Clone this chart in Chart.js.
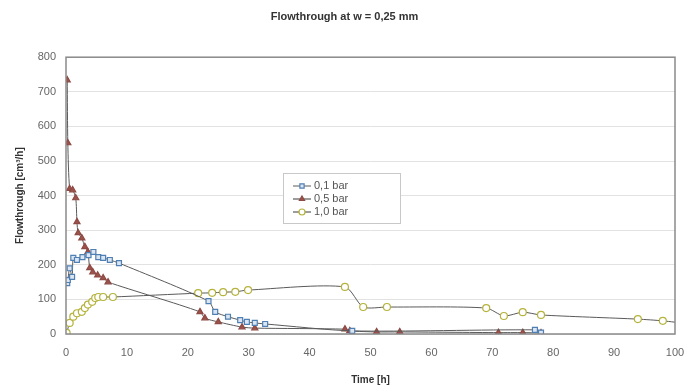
<!DOCTYPE html>
<html><head><meta charset="utf-8">
<script src="https://cdn.jsdelivr.net/npm/chart.js@4/dist/chart.umd.min.js"></script>
<style>html,body{margin:0;padding:0;background:#fff}#wrap{width:685px;height:390px;position:relative}</style>
</head><body><div id="wrap"><canvas id="c" width="685" height="390"></canvas></div>
<script>
const chartTitle = 'Flowthrough at w = 0,25 mm';
const xTitle = 'Time [h]';
const yTitle = 'Flowthrough [cm³/h]';
const seriesNames = ['0,1 bar', '0,5 bar', '1,0 bar'];

const t01 = [0.2, 0.3, 0.6, 1.0, 1.2, 1.8, 2.7, 3.7, 4.5, 5.3, 6.1, 7.2, 8.7, 23.4, 24.5, 26.6, 28.6, 29.7, 31, 32.7, 47, 77, 78];
const v01 = [147, 156, 190, 165, 220, 214, 222, 228, 237, 222, 220, 214, 205, 95, 64, 50, 40, 35, 32, 29, 9, 12, 4];

const t05 = [0.2, 0.3, 0.6, 1.1, 1.6, 1.8, 2.0, 2.6, 3.1, 3.6, 3.9, 4.4, 5.2, 6.1, 6.9, 22, 22.8, 25, 28.9, 31, 45.8, 46.6, 51, 54.8, 71, 75, 78];
const v05 = [734, 552, 420, 416, 393, 324, 292, 277, 252, 237, 191, 179, 170, 162, 150, 64, 46, 35, 20, 17, 14, 9, 6, 6, 4, 4, 3];

const t10 = [0.1, 0.6, 1.2, 1.8, 2.6, 3.1, 3.6, 4.3, 4.8, 5.3, 6.1, 7.7, 21.7, 24, 25.8, 27.8, 29.9, 45.8, 48.8, 52.7, 69, 71.9, 75, 78, 93.9, 98, 102];
const v10 = [3, 32, 50, 60, 64, 75, 85, 93, 104, 107, 107, 107, 118, 119, 121, 122, 127, 136, 78, 78, 75, 52, 63, 55, 43, 38, 30];

const xTicks = [0, 10, 20, 30, 40, 50, 60, 70, 80, 90, 100];
const yTicks = [0, 100, 200, 300, 400, 500, 600, 700, 800];

const pts = (t, v) => t.map((x, i) => ({x, y: v[i]}));

const styles = [
  {pointStyle: 'rect', borderColor: '#4f7fb3', backgroundColor: '#dbe6f2', radius: 3.5},
  {pointStyle: 'triangle', borderColor: '#8e4a44', backgroundColor: '#9c514a', radius: 3.5},
  {pointStyle: 'circle', borderColor: '#b5b33c', backgroundColor: '#ffffff', radius: 3.5}
];

const datasets = [[t01, v01], [t05, v05], [t10, v10]].map((d, i) => ({
  label: seriesNames[i],
  data: pts(d[0], d[1]),
  borderColor: '#5a5a5a',
  borderWidth: 1,
  tension: 0.25,
  pointStyle: styles[i].pointStyle,
  pointRadius: styles[i].radius,
  pointBorderColor: styles[i].borderColor,
  pointBackgroundColor: styles[i].backgroundColor,
  pointBorderWidth: 1.2,
  fill: false
}));

const framePlugin = {
  id: 'frame',
  afterDatasetsDraw(chart) {
    const a = chart.chartArea, ctx = chart.ctx;
    ctx.save();
    ctx.strokeStyle = '#8a8a8a';
    ctx.lineWidth = 1.5;
    ctx.strokeRect(a.left, a.top, a.right - a.left, a.bottom - a.top);
    // legend box
    const lx = 283, ly = 173, lw = 117, lh = 50;
    ctx.fillStyle = '#fff';
    ctx.fillRect(lx, ly, lw, lh);
    ctx.strokeStyle = '#c8c8c8';
    ctx.lineWidth = 1;
    ctx.strokeRect(lx + 0.5, ly + 0.5, lw, lh);
    ctx.font = '11px "Liberation Sans", Arial, sans-serif';
    ctx.textBaseline = 'middle';
    seriesNames.forEach((n, i) => {
      const yy = ly + 13 + i * 13;
      ctx.strokeStyle = '#5a5a5a';
      ctx.beginPath(); ctx.moveTo(293, yy); ctx.lineTo(311, yy); ctx.stroke();
      ctx.fillStyle = styles[i].backgroundColor; ctx.strokeStyle = styles[i].borderColor; ctx.lineWidth = 1.2;
      Chart.helpers.drawPoint(ctx, {pointStyle: styles[i].pointStyle, radius: 3, borderWidth: 1.2}, 302, yy);
      ctx.fillStyle = '#555';
      ctx.fillText(n, 314, yy);
    });
    ctx.restore();
  }
};

new Chart(document.getElementById('c'), {
  type: 'line',
  data: {datasets},
  options: {
    responsive: false,
    animation: false,
    layout: {padding: {left: 14, right: 10, top: 0, bottom: 0}},
    plugins: {
      legend: {display: false},
      tooltip: {enabled: false},
      title: {display: true, text: chartTitle, color: '#333',
        font: {family: '"Liberation Sans", Arial, sans-serif', size: 11, weight: 'bold'},
        padding: {top: 10, bottom: 34}}
    },
    scales: {
      x: {
        type: 'linear', min: 0, max: 100,
        afterBuildTicks: s => { s.ticks = xTicks.map(v => ({value: v})); },
        grid: {display: false, drawTicks: false},
        border: {display: false},
        ticks: {color: '#666', padding: 12, font: {family: '"Liberation Sans", Arial, sans-serif', size: 11}},
        title: {display: true, text: xTitle, color: '#333', padding: {top: 6, bottom: 4},
          font: {family: '"Liberation Sans", Arial, sans-serif', size: 10, weight: 'bold'}},
        afterFit: s => { s.height = 56; s.paddingRight = 0; }
      },
      y: {
        min: 0, max: 800,
        afterBuildTicks: s => { s.ticks = yTicks.map(v => ({value: v})); },
        grid: {color: '#e2e2e2', drawTicks: false},
        border: {display: false},
        ticks: {color: '#666', padding: 10, font: {family: '"Liberation Sans", Arial, sans-serif', size: 11}},
        title: {display: true, text: yTitle, color: '#333', padding: {top: 0, bottom: 4},
          font: {family: '"Liberation Sans", Arial, sans-serif', size: 10, weight: 'bold'}},
        afterFit: s => { s.width = 52; }
      }
    }
  },
  plugins: [framePlugin]
});
</script></body></html>
